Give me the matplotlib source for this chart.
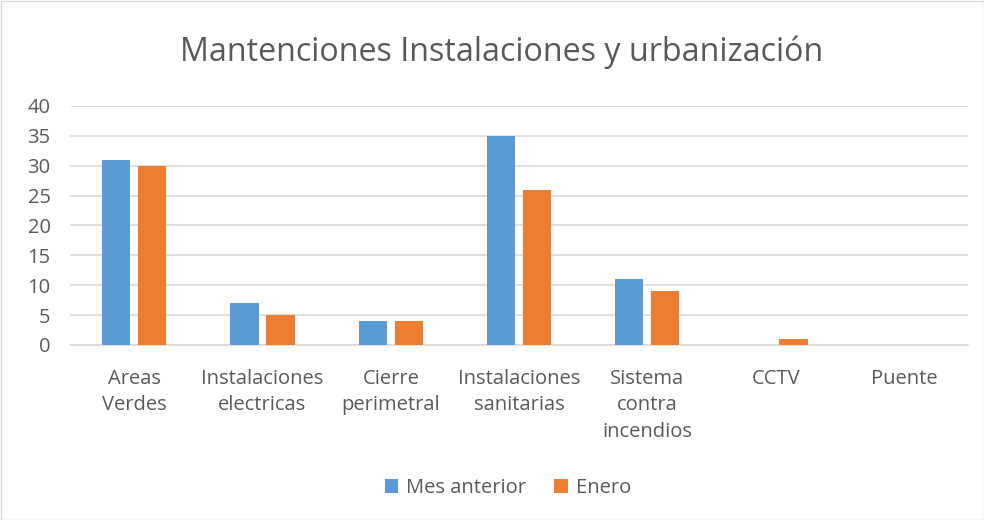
import matplotlib
matplotlib.use("Agg")
import matplotlib.pyplot as plt
import numpy as np

categories = ["Areas\nVerdes", "Instalaciones\nelectricas", "Cierre\nperimetral",
              "Instalaciones\nsanitarias", "Sistema\ncontra\nincendios", "CCTV", "Puente"]
mes_anterior = [31, 7, 4, 35, 11, 0, 0]
enero = [30, 5, 4, 26, 9, 1, 0]
series_names = ["Mes anterior", "Enero"]
colors = ["#5B9BD5", "#ED7D31"]

plt.rcParams['font.family'] = ['Open Sans', 'DejaVu Sans']
text_color = "#595959"

fig = plt.figure(figsize=(9.84, 5.2), dpi=100)
ax = fig.add_axes([70/984, 1 - 345/520, 898/984, (345-106)/520])

x = np.arange(len(categories))
w = 0.22
gap = 0.06
ax.bar(x - (w + gap)/2, mes_anterior, width=w, color=colors[0], label=series_names[0], zorder=3)
ax.bar(x + (w + gap)/2, enero, width=w, color=colors[1], label=series_names[1], zorder=3)

ax.set_xlim(-0.5, len(categories) - 0.5)
ax.set_ylim(0, 40)
ax.set_yticks(range(0, 41, 5))
ax.yaxis.grid(True, color="#D9D9D9", linewidth=1.2, zorder=0)
ax.set_axisbelow(True)
for s in ["top", "right", "left"]:
    ax.spines[s].set_visible(False)
ax.spines["bottom"].set_color("#D9D9D9")
ax.spines["bottom"].set_linewidth(1.2)
ax.tick_params(axis="both", length=0, labelsize=14.5, labelcolor=text_color)
ax.tick_params(axis="y", pad=14)
ax.set_xticks(x)
ax.set_xticklabels(categories, linespacing=1.43, va="top")
ax.tick_params(axis="x", pad=17)

fig.text(502/984, 1 - 52/520, "Mantenciones Instalaciones y urbanización", ha="center", va="center",
         fontsize=23.2, color=text_color)

leg = fig.legend(loc="center", bbox_to_anchor=(508/984, 1 - 488/520), ncol=2, frameon=False,
                 fontsize=14.5, handlelength=0.65, handleheight=0.65, columnspacing=1.4,
                 handletextpad=0.4, labelcolor=text_color)

border = plt.Rectangle((0.5/984, 0.5/520), 1 - 1/984, 1 - 1/520, transform=fig.transFigure,
                       fill=False, edgecolor="#D9D9D9", linewidth=1)
fig.patches.append(border)

fig.savefig("out.png", dpi=100, facecolor="white")
